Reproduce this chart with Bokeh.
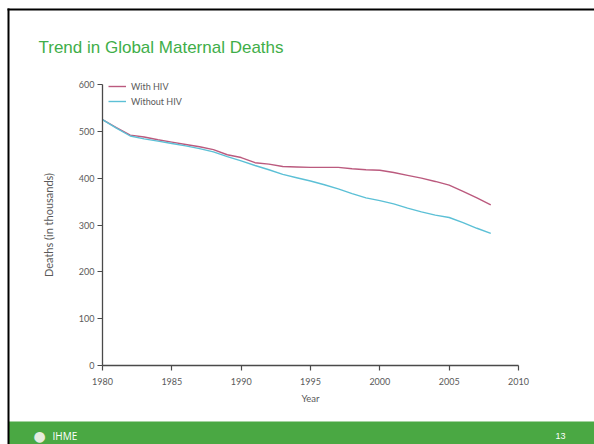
from bokeh.plotting import figure
from bokeh.models import Label, BoxAnnotation, Legend, LegendItem, FixedTicker, LinearAxis
from bokeh.embed import file_html
from bokeh.resources import INLINE

years = list(range(1980, 2009))
with_hiv = [525, 508, 492, 488, 482, 477, 472, 467, 461, 450, 444, 433, 430, 425, 424,
            423, 423, 423, 420, 418, 417, 412, 406, 400, 393, 385, 372, 358, 343]
without_hiv = [525, 507, 490, 484, 479, 474, 469, 463, 456, 446, 437, 427, 418, 408, 401,
               394, 386, 377, 367, 358, 352, 345, 336, 328, 321, 316, 305, 293, 282]
x_ticks = [1980, 1985, 1990, 1995, 2000, 2005, 2010]
y_ticks = [0, 100, 200, 300, 400, 500, 600]
series_names = ["With HIV", "Without HIV"]
title_text = "Trend in Global Maternal Deaths"
x_label = "Year"
y_label = "Deaths (in thousands)"
footer_logo = "IHME"
page_number = "13"

# layout plan (pixels from the top-left of the figure)
W, H = 594, 444
X0PX, X1PX = 102, 518      # where the x axis starts / ends
Y0PX, Y1PX = 365, 84       # where the y axis starts / ends
xs, xe = x_ticks[0], x_ticks[-1]
ys, ye = y_ticks[0], y_ticks[-1]
kx = (X1PX - X0PX) / (xe - xs)
ky = (Y0PX - Y1PX) / (ye - ys)
x_range = (xs - X0PX / kx, xs + (W - X0PX) / kx)
y_range = (ys - (H - Y0PX) / ky, ys + Y0PX / ky)

p = figure(width=W, height=H, output_backend="svg", toolbar_location=None,
           x_range=x_range, y_range=y_range, x_axis_type=None, y_axis_type=None,
           min_border=0)
p.outline_line_color = None
p.grid.visible = False
p.background_fill_color = "white"
p.border_fill_color = "white"

TICK_FONT = "Lato"
AX_COL = "#4a4a4a"
TXT_COL = "#5a5a5a"
xaxis = LinearAxis(fixed_location=ys, bounds=(xs, xe), ticker=FixedTicker(ticks=x_ticks),
                   axis_label=x_label)
yaxis = LinearAxis(fixed_location=xs, bounds=(ys, ye), ticker=FixedTicker(ticks=y_ticks),
                   axis_label=y_label)
for ax in (xaxis, yaxis):
    ax.axis_line_color = AX_COL
    ax.axis_line_width = 1.3
    ax.major_tick_line_color = AX_COL
    ax.major_tick_line_width = 1.2
    ax.major_tick_out = 5
    ax.major_tick_in = 0
    ax.minor_tick_line_color = None
    ax.major_label_text_font = TICK_FONT
    ax.major_label_text_font_size = "9px"
    ax.major_label_text_color = TXT_COL
    ax.axis_label_text_font = TICK_FONT
    ax.axis_label_text_font_style = "normal"
    ax.axis_label_text_color = TXT_COL
xaxis.axis_label_text_font_size = "9.5px"
yaxis.axis_label_text_font_size = "11px"
xaxis.major_label_standoff = 7
xaxis.axis_label_standoff = 5
yaxis.major_label_standoff = 3
yaxis.axis_label_standoff = 21
p.add_layout(xaxis, "below")
p.add_layout(yaxis, "left")

r1 = p.line(years, with_hiv, line_color="#bb5a7e", line_width=1.4)
r2 = p.line(years, without_hiv, line_color="#5cc0d6", line_width=1.4)

legend = Legend(items=[LegendItem(label=series_names[0], renderers=[r1]),
                       LegendItem(label=series_names[1], renderers=[r2])],
                location=(108, H - 107), background_fill_alpha=0, border_line_color=None,
                padding=2, spacing=3, glyph_width=18, glyph_height=12, label_height=12,
                label_standoff=5, label_text_font=TICK_FONT, label_text_font_size="9px",
                label_text_color=TXT_COL, margin=0)
p.add_layout(legend, "center")

def sbox(left, right, top, bottom, color):
    # top/bottom given as px from the figure top
    return BoxAnnotation(left=left, right=right, top=H - top, bottom=H - bottom,
                         left_units="screen", right_units="screen",
                         top_units="screen", bottom_units="screen",
                         fill_color=color, fill_alpha=1, line_color=None, level="overlay")

p.add_layout(sbox(8, W + 2, 421, H + 2, "#4aa843"))   # footer bar
p.add_layout(sbox(7, 9, 8, H + 2, "black"))            # slide border, left
p.add_layout(sbox(7, W + 2, 8, 10, "black"))           # slide border, top

p.add_layout(Label(x=38, y=H - 47, x_units="screen", y_units="screen",
                   text=title_text, text_font="Liberation Sans", text_font_size="17px",
                   text_color="#3fae49", text_baseline="alphabetic"))
p.add_layout(Label(x=33, y=H - 435, x_units="screen", y_units="screen",
                   text="●", text_font="DejaVu Sans", text_font_size="14px",
                   text_color="#e6ece0", text_baseline="middle", level="overlay"))
p.add_layout(Label(x=52, y=H - 435, x_units="screen", y_units="screen",
                   text=footer_logo, text_font="Open Sans", text_font_size="10px",
                   text_color="white", text_baseline="middle", level="overlay"))
p.add_layout(Label(x=555, y=H - 435, x_units="screen", y_units="screen",
                   text=page_number, text_font="Liberation Sans", text_font_size="9px",
                   text_color="white", text_baseline="middle", level="overlay"))

open("out.html", "w").write(file_html(p, INLINE))
